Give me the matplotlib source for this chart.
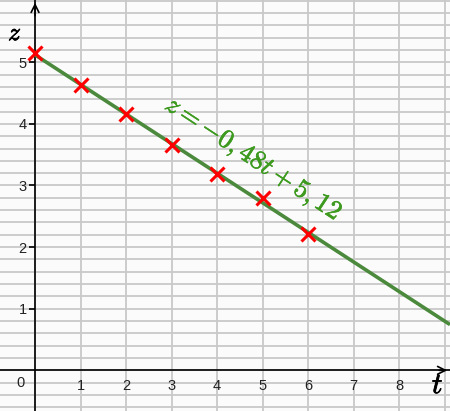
import matplotlib.pyplot as plt
import matplotlib.patheffects as pe
import numpy as np

# measured points (t, z)
t_pts = [0, 1, 2, 3, 4, 5, 6]
z_pts = [5.15, 4.63, 4.16, 3.66, 3.18, 2.79, 2.21]

# regression line z = a*t + b
slope = -0.48
intercept = 5.12

x_ticks = [1, 2, 3, 4, 5, 6, 7, 8]
y_ticks = [1, 2, 3, 4, 5]

t_min, t_max = -0.77, 9.12
z_min, z_max = -0.66, 6.01

green = "#4b8a3c"

plt.rcParams["mathtext.fontset"] = "cm"

fig = plt.figure(figsize=(4.5, 4.11), dpi=100)
ax = fig.add_axes([0, 0, 1, 1])
ax.set_facecolor("#fbfbfb")
ax.set_xlim(t_min, t_max)
ax.set_ylim(z_min, z_max)

# grid: vertical every 1, horizontal every 0.2
for gx in np.arange(-1, 10, 1):
    ax.axvline(gx, color="#c9c9c9", lw=1.3, zorder=0)
for gy in np.arange(-0.6, 6.01, 0.2):
    ax.axhline(gy, color="#c9c9c9", lw=1.3, zorder=0)

# axes through origin
for s in ["top", "right"]:
    ax.spines[s].set_visible(False)
ax.spines["bottom"].set_position(("data", 0))
ax.spines["left"].set_position(("data", 0))
ax.spines["bottom"].set_linewidth(1.2)
ax.spines["left"].set_linewidth(1.2)
ax.annotate("", xy=(t_max, 0), xytext=(t_max - 0.3, 0),
            arrowprops=dict(arrowstyle="->", lw=1.2, color="black",
                            mutation_scale=14))
ax.annotate("", xy=(0, z_max), xytext=(0, z_max - 0.3),
            arrowprops=dict(arrowstyle="->", lw=1.2, color="black",
                            mutation_scale=14))

ax.set_xticks(x_ticks)
ax.set_xticklabels([str(v) for v in x_ticks])
ax.set_yticks(y_ticks)
ax.set_yticklabels([str(v) for v in y_ticks])
ax.tick_params(axis="x", length=0, pad=6, labelsize=10.5, labelcolor="#222222")
ax.tick_params(axis="y", length=4, width=1.2, direction="out", pad=2,
               labelsize=10.5, labelcolor="#222222")
for lab in ax.get_xticklabels() + ax.get_yticklabels():
    lab.set_family("Liberation Sans")
ax.text(-0.33, -0.2, "0", ha="center", va="center", fontsize=10.5,
        color="#222222", family="Liberation Sans")

thick = [pe.withStroke(linewidth=0.6, foreground="black")]
ax.text(-0.44, 5.47, r"$z$", fontsize=18, ha="center", va="center",
        path_effects=thick)
ax.text(8.85, -0.24, r"$t$", fontsize=21, ha="center", va="center",
        path_effects=thick)

# regression line and data points
tt = np.array([0, t_max])
ax.plot(tt, slope * tt + intercept, color=green, lw=2.6, zorder=3,
        solid_capstyle="butt")
ax.plot(t_pts, z_pts, ls="none", marker="x", ms=10, mew=2.2,
        color="#ff0000", zorder=4, clip_on=False)

eq_color = "#3d9a1f"
ax.text(4.79, 3.42, r"$z=-0,48t+5,12$", color=eq_color, fontsize=19,
        rotation=-33.3, rotation_mode="anchor", ha="center", va="center",
        path_effects=[pe.withStroke(linewidth=0.5, foreground=eq_color)])

fig.savefig("out.png", dpi=100)
